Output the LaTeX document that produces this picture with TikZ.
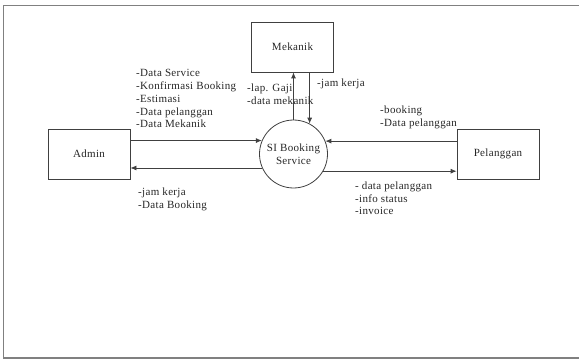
\documentclass[tikz,border=0pt]{standalone}
\usepackage{fontspec}
\setmainfont[LetterSpace=3]{Liberation Serif}
\usetikzlibrary{arrows.meta}
\begin{document}
\begin{tikzpicture}[x=1pt,y=-1pt,
  every node/.style={font=\fontsize{11}{12.7}\selectfont, text=black!85},
  entity/.style={draw=black!75, line width=0.8pt, minimum width=82pt, minimum height=50pt, inner sep=0pt},
  process/.style={draw=black!75, line width=0.8pt, circle, minimum size=68pt, inner sep=0pt, align=center},
  flow/.style={draw=black!75, line width=0.8pt, -{Latex[length=6pt,width=5pt]}},
  lbl/.style={anchor=north west, align=left, inner sep=0pt}]
  \useasboundingbox (0,0) rectangle (579,361);
  % outer frame
  \draw[gray, line width=1.6pt] (579,5.5) -- (3.5,5.5) -- (3.5,358) -- (579,358);

  % external entities and the process
  \node[entity] (mek) at (292.5,47) {Mekanik};
  \node[entity] (adm) at (89,154) {Admin};
  \node[entity] (pel) at (498,154) {Pelanggan};
  \node[process] (sib) at (293.5,154) {SI Booking\\Service};

  % data flows
  \draw[flow] (adm.east |- sib.157.5) -- (sib.157.5);
  \draw[flow] (sib.204) -- (adm.east |- sib.204);
  \draw[flow] (sib.north) -- (mek.south -| sib.north);
  \draw[flow] (mek.south -| sib.62) -- (sib.62);
  \draw[flow] (pel.west |- sib.22.5) -- (sib.22.5);
  \draw[flow] (sib.-30) -- (pel.west |- sib.-30);

  % flow labels
  \node[lbl] (l1) at (136,69.5) {-Data Service\\-Konfirmasi Booking\\-Estimasi\\-Data pelanggan\\-Data Mekanik};
  \node[lbl] (l2) at (247,83.5) {-lap. Gaji\\-data mekanik};
  \node[lbl] (l3) at (317,78.5) {-jam kerja};
  \node[lbl] (l4) at (380,105.5) {-booking\\-Data pelanggan};
  \node[lbl] (l5) at (355,181.5) {- data pelanggan\\-info status\\-invoice};
  \node[lbl] (l6) at (138,187.5) {-jam kerja\\-Data Booking};
\end{tikzpicture}
\end{document}
